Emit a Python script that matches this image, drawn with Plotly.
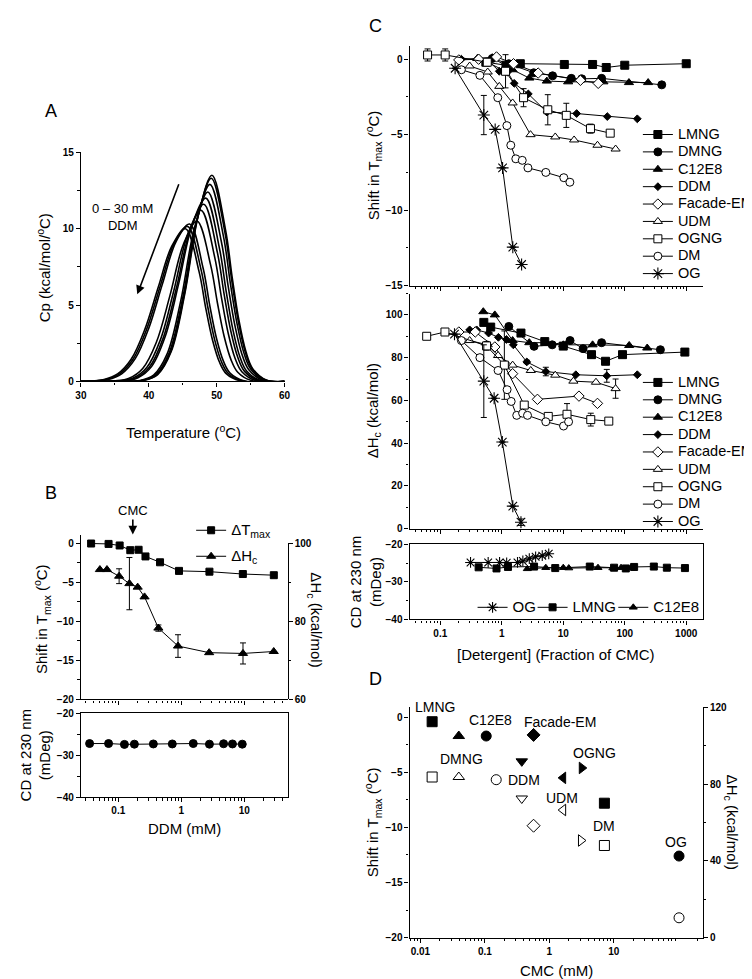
import math
import plotly.graph_objects as go

W, H = 752, 979
FONT = "Arial, Liberation Sans, sans-serif"

# ---------------- Panel A: DSC thermograms (0 - 30 mM DDM) ----------------
dsc_temp = [
    [30, 37.3, 39.3, 41.3, 43.3, 45.3, 47.3, 49.3, 51.3, 52.3, 53.3, 54.3, 55.3, 57.3, 60],
    [30, 37.2, 39.2, 41.2, 43.2, 45.2, 47.2, 49.2, 51.2, 52.2, 53.2, 54.2, 55.2, 57.2, 60],
    [30, 37.0, 39.0, 41.0, 43.0, 45.0, 47.0, 49.0, 51.0, 52.0, 53.0, 54.0, 55.0, 57.0, 60],
    [30, 36.7, 38.7, 40.7, 42.7, 44.7, 46.7, 48.7, 50.7, 51.7, 52.7, 53.7, 54.7, 56.7, 60],
    [30, 36.4, 38.4, 40.4, 42.4, 44.4, 46.4, 48.4, 50.4, 51.4, 52.4, 53.4, 54.4, 56.4, 60],
    [30, 36.1, 38.1, 40.1, 42.1, 44.1, 46.1, 48.1, 50.1, 51.1, 52.1, 53.1, 54.1, 56.1, 60],
    [30, 35.7, 37.7, 39.7, 41.7, 43.7, 45.7, 47.7, 49.7, 50.7, 51.7, 52.7, 53.7, 55.7, 60],
    [30, 35.1, 37.1, 39.1, 41.1, 43.1, 45.1, 47.1, 49.1, 50.1, 51.1, 52.1, 53.1, 55.1, 60],
    [30, 34.0, 36.0, 38.0, 40.0, 42.0, 44.0, 46.0, 48.0, 49.0, 50.0, 51.0, 52.0, 54.0, 60],
    [30, 33.7, 35.7, 37.7, 39.7, 41.7, 43.7, 45.7, 47.7, 48.7, 49.7, 50.7, 51.7, 53.7, 60],
    [30, 33.4, 35.4, 37.4, 39.4, 41.4, 43.4, 45.4, 47.4, 48.4, 49.4, 50.4, 51.4, 53.4, 60],
]
dsc_cp = [
    [0, 0.01, 0.07, 0.45, 1.96, 5.74, 10.89, 13.5, 9.92, 6.75, 3.94, 1.96, 0.84, 0.09, 0],
    [0, 0.01, 0.07, 0.44, 1.93, 5.65, 10.73, 13.3, 9.78, 6.65, 3.88, 1.93, 0.83, 0.09, 0],
    [0, 0.01, 0.06, 0.43, 1.87, 5.48, 10.41, 12.9, 9.48, 6.45, 3.77, 1.87, 0.81, 0.09, 0],
    [0, 0.01, 0.06, 0.41, 1.80, 5.27, 10.01, 12.4, 9.11, 6.20, 3.62, 1.80, 0.78, 0.09, 0],
    [0, 0.04, 0.24, 0.97, 2.92, 6.40, 10.26, 12.0, 8.72, 5.88, 3.36, 1.63, 0.68, 0.07, 0],
    [0, 0.04, 0.23, 0.94, 2.82, 6.18, 9.92, 11.6, 8.43, 5.68, 3.25, 1.58, 0.66, 0.07, 0],
    [0, 0.04, 0.22, 0.91, 2.72, 5.97, 9.58, 11.2, 8.14, 5.49, 3.14, 1.52, 0.64, 0.07, 0],
    [0, 0.04, 0.21, 0.85, 2.55, 5.60, 8.98, 10.5, 7.63, 5.15, 2.94, 1.43, 0.60, 0.06, 0],
    [0, 0.13, 0.50, 1.49, 3.49, 6.37, 9.14, 10.3, 7.41, 4.91, 2.76, 1.31, 0.53, 0.05, 0],
    [0, 0.13, 0.50, 1.47, 3.44, 6.27, 9.00, 10.15, 7.30, 4.84, 2.72, 1.29, 0.52, 0.05, 0],
    [0, 0.13, 0.49, 1.45, 3.39, 6.18, 8.87, 10.0, 7.19, 4.77, 2.68, 1.27, 0.51, 0.05, 0],
]

# ---------------- Panel B: DDM titration ----------------
b_tmax_conc = [0.037, 0.07, 0.105, 0.155, 0.21, 0.27, 0.46, 0.92, 2.8, 9.5, 29.5]
b_tmax = [-0.05, -0.1, -0.3, -0.9, -0.85, -1.7, -2.45, -3.55, -3.65, -3.95, -4.1]
b_dh_conc = [0.051, 0.066, 0.103, 0.15, 0.203, 0.261, 0.433, 0.887, 2.77, 9.55, 29.4]
b_dh = [93.3, 93.3, 91.6, 89.7, 88.8, 86.3, 78.3, 73.7, 72.0, 71.8, 72.3]
b_dh_err = [0, 0, 1.9, 6.7, 0, 0, 0.8, 2.9, 0, 2.7, 0]
b_cd_conc = [0.035, 0.07, 0.125, 0.18, 0.36, 0.72, 1.55, 2.8, 4.7, 6.5, 9.3]
b_cd = [-27.2, -27.2, -27.4, -27.35, -27.3, -27.3, -27.2, -27.35, -27.25, -27.3, -27.35]
ddm_cmc = 0.17

# ---------------- Panel C: shift in Tmax vs fraction of CMC ----------------
c_names = ["LMNG", "DMNG", "C12E8", "DDM", "Facade-EM", "UDM", "OGNG", "DM", "OG"]
c_symbols = ["square", "circle", "triangle-up", "diamond", "diamond",
             "triangle-up", "square", "circle", "asterisk-open"]
c_filled = [True, True, True, True, False, False, False, False, True]

tm_lmng_x = [0.55, 1.17, 2.0, 10.4, 30, 50, 100, 1000]
tm_lmng_y = [-0.2, -0.4, -0.3, -0.35, -0.35, -0.55, -0.4, -0.3]
tm_dmng_x = [0.7, 1.3, 3.3, 6.7, 13.5, 20, 42, 400]
tm_dmng_y = [0.05, -0.3, -0.9, -1.1, -1.27, -1.3, -1.27, -1.7]
tm_c12e8_x = [0.4, 0.7, 1.5, 2.8, 5.4, 12, 45, 117, 240]
tm_c12e8_y = [0.05, 0.1, -0.7, -1.25, -1.45, -1.5, -1.5, -1.55, -1.55]
tm_ddm_x = [0.22, 0.41, 0.62, 0.91, 1.24, 1.59, 2.7, 5.4, 16.5, 52, 160]
tm_ddm_y = [0.0, 0.05, -0.15, -0.8, -0.85, -1.6, -2.3, -3.5, -3.6, -3.8, -3.95]
tm_facade_x = [0.2, 0.42, 0.82, 1.55, 3.9, 19, 37]
tm_facade_y = [-0.05, 0.0, 0.15, -0.3, -0.92, -1.4, -1.6]
tm_udm_x = [0.3, 0.59, 0.91, 1.5, 2.93, 7.4, 15, 36, 71]
tm_udm_y = [-0.45, -0.85, -1.8, -2.9, -5.0, -5.15, -5.35, -5.7, -5.95]
tm_ogng_x = [0.062, 0.12, 0.58, 1.15, 2.26, 5.6, 11.2, 27.7, 58]
tm_ogng_y = [0.28, 0.28, -0.2, -0.8, -2.55, -3.35, -3.72, -4.6, -4.9]
tm_ogng_err = [0.4, 0.4, 0.2, 1.1, 0.6, 1.0, 0.8, 0.3, 0]
tm_dm_x = [0.22, 0.44, 0.86, 1.21, 1.4, 1.69, 2.15, 2.66, 5.2, 10.2, 12.8]
tm_dm_y = [-0.7, -1.07, -2.55, -4.4, -5.7, -6.6, -6.7, -7.2, -7.5, -7.85, -8.15]
tm_og_x = [0.174, 0.51, 0.78, 1.03, 1.51, 2.1]
tm_og_y = [-0.6, -3.7, -4.65, -7.2, -12.45, -13.6]
tm_og_err = [0, 1.3, 0, 0, 0, 0]

dh_lmng_x = [0.51, 0.66, 2.05, 5.0, 10, 28.8, 48.7, 92, 950]
dh_lmng_y = [96.5, 94.3, 91.5, 87.5, 85.4, 81.4, 78.3, 81.4, 82.6]
dh_dmng_x = [1.3, 3.35, 6.6, 12.9, 21, 42, 380]
dh_dmng_y = [94.6, 85.3, 86, 88, 84.2, 87, 83.7]
dh_c12e8_x = [0.5, 0.77, 1.5, 2.8, 5.3, 10, 30, 118, 232]
dh_c12e8_y = [101.5, 100, 88, 87, 87, 86, 86, 85.7, 84.5]
dh_ddm_x = [0.3, 0.39, 0.61, 0.88, 1.19, 1.54, 2.55, 5.2, 16, 51, 160]
dh_ddm_y = [93, 93, 91.5, 89.5, 88.5, 86, 78, 73.5, 72, 71.5, 72]
dh_ddm_err = [0, 0, 0, 0, 0, 0, 0.8, 2, 0, 3, 0]
dh_facade_x = [0.2, 0.37, 0.77, 1.5, 3.8, 18, 36]
dh_facade_y = [92, 92, 85, 72.5, 60.5, 62, 58.6]
dh_udm_x = [0.3, 0.59, 0.87, 1.5, 2.96, 7.4, 14.6, 34, 71]
dh_udm_y = [88, 86, 81, 76.5, 74, 71.8, 69, 68.5, 65.5]
dh_udm_err = [0, 0, 0, 0, 0, 0, 0, 0, 4.5]
dh_ogng_x = [0.06, 0.119, 0.565, 1.1, 2.32, 5.7, 11.5, 28, 55]
dh_ogng_y = [90, 92, 85.5, 76.5, 57.8, 52.5, 53.5, 51, 50.3]
dh_ogng_err = [1.5, 1, 2, 16, 1, 0.5, 5, 3, 0]
dh_dm_x = [0.22, 0.44, 0.87, 1.22, 1.42, 1.75, 2.18, 2.62, 5.2, 10.1, 12.2]
dh_dm_y = [88, 80, 74, 65, 59.5, 53, 54, 53, 50, 48, 50]
dh_og_x = [0.17, 0.51, 0.75, 1.02, 1.51, 2.05]
dh_og_y = [91, 69, 61, 40.5, 10.5, 3]
dh_og_err = [0, 17, 0, 0, 0, 1.5]

cd_og_x = [0.31, 0.6, 0.92, 1.2, 1.8, 2.2, 2.8, 3.55, 4.55, 5.8]
cd_og_y = [-24.8, -24.8, -24.8, -24.9, -24.8, -24.4, -23.8, -23.3, -23.0, -22.5]
cd_lmng_x = [0.42, 0.82, 1.26, 3.35, 7.4, 27, 67, 104, 142, 297, 484, 953]
cd_lmng_y = [-26.1, -26.4, -26.0, -25.9, -26.3, -25.9, -26.2, -26.4, -26.0, -25.9, -26.2, -26.3]
cd_c12e8_x = [2.6, 5.2, 10, 12.3, 36.7, 64, 87, 126]
cd_c12e8_y = [-26.5, -26.2, -26.2, -26.3, -26.2, -26.3, -26.2, -26.3]

# ---------------- Panel D: effects vs CMC ----------------
d_names = ["LMNG", "DMNG", "C12E8", "Facade-EM", "DDM", "UDM", "OGNG", "DM", "OG"]
d_cmc_tmax = [0.0152, 0.0394, 0.105, 0.57, 0.374, 1.64, 3.19, 7.16, 103]
d_cmc_dh = [0.0152, 0.0394, 0.15, 0.57, 0.374, 1.64, 3.1, 7.16, 103]
d_tmax = [-0.4, -1.7, -1.7, -1.6, -4.0, -5.5, -4.6, -7.8, -12.6]
d_dh = [83.7, 83.7, 82.3, 58.3, 72.5, 66.5, 50.6, 48, 10.3]
d_symbols = ["square", "triangle-up", "circle", "diamond", "triangle-down",
             "triangle-left", "triangle-right", "square", "circle"]
# text label anchors (CMC mM, shift value)
d_label_text = ["LMNG", "DMNG", "C12E8", "Facade-EM", "OGNG", "DDM", "UDM", "DM", "OG"]
d_label_x = [0.0169, 0.0437, 0.121, 1.47, 5.04, 0.401, 1.58, 7.16, 93]
d_label_y = [0.9, -3.8, -0.2, -0.4, -3.2, -5.67, -7.37, -9.85, -11.3]


def fx(px):
    return px / W


def fy(py):
    return 1 - py / H


def log_minor(lo, hi):
    return [m * 10 ** e for e in range(lo, hi + 1) for m in range(2, 10)]


def mk(symbol, filled, size=7):
    if symbol == "asterisk-open":
        return dict(symbol=symbol, size=size + 2, color="black", line=dict(color="black", width=1.1))
    return dict(symbol=symbol, size=size, color="black" if filled else "white",
                line=dict(color="black", width=1))


def err(vals):
    return dict(type="data", array=vals, color="black", thickness=1, width=3)


def big(name, size=15):
    return '<span style="font-size:%spx">%s</span>' % (size, name)


fig = go.Figure()

# Panel A
for t, cp in zip(dsc_temp, dsc_cp):
    fig.add_trace(go.Scatter(x=t, y=cp, mode="lines", line=dict(color="black", width=1.6, shape="spline"),
                             xaxis="x", yaxis="y", showlegend=False, hoverinfo="skip"))

# Panel B
fig.add_trace(go.Scatter(x=b_tmax_conc, y=b_tmax, mode="lines+markers", name=big("ΔT<sub>max</sub>"),
                         line=dict(color="black", width=1), marker=mk("square", True, 7),
                         xaxis="x2", yaxis="y2", legend="legend4", legendgroup="bt"))
fig.add_trace(go.Scatter(x=b_dh_conc, y=b_dh, mode="lines+markers", name=big("ΔH<sub>c</sub>"),
                         line=dict(color="black", width=1), marker=mk("triangle-up", True, 8),
                         error_y=err(b_dh_err), xaxis="x2", yaxis="y3", legend="legend4", legendgroup="bh"))
fig.add_trace(go.Scatter(x=b_cd_conc, y=b_cd, mode="lines+markers", line=dict(color="black", width=1),
                         marker=mk("circle", True, 8), xaxis="x3", yaxis="y4", showlegend=False))

# Panel C
tm_sets = [(tm_lmng_x, tm_lmng_y, None), (tm_dmng_x, tm_dmng_y, None), (tm_c12e8_x, tm_c12e8_y, None),
           (tm_ddm_x, tm_ddm_y, None), (tm_facade_x, tm_facade_y, None), (tm_udm_x, tm_udm_y, None),
           (tm_ogng_x, tm_ogng_y, tm_ogng_err), (tm_dm_x, tm_dm_y, None), (tm_og_x, tm_og_y, tm_og_err)]
dh_sets = [(dh_lmng_x, dh_lmng_y, None), (dh_dmng_x, dh_dmng_y, None), (dh_c12e8_x, dh_c12e8_y, None),
           (dh_ddm_x, dh_ddm_y, dh_ddm_err), (dh_facade_x, dh_facade_y, None), (dh_udm_x, dh_udm_y, dh_udm_err),
           (dh_ogng_x, dh_ogng_y, dh_ogng_err), (dh_dm_x, dh_dm_y, None), (dh_og_x, dh_og_y, dh_og_err)]

for i, name in enumerate(c_names):
    sym, filled = c_symbols[i], c_filled[i]
    size = 6 if sym == "diamond" and filled else 8
    x, y, e = tm_sets[i]
    fig.add_trace(go.Scatter(x=x, y=y, mode="lines+markers", name=big(name, 14.5),
                             line=dict(color="black", width=1), marker=mk(sym, filled, size),
                             error_y=err(e) if e else None, xaxis="x4", yaxis="y5", legend="legend%d" % (10 + i)))
    x, y, e = dh_sets[i]
    fig.add_trace(go.Scatter(x=x, y=y, mode="lines+markers", name=big(name, 14.5),
                             line=dict(color="black", width=1), marker=mk(sym, filled, size),
                             error_y=err(e) if e else None, xaxis="x5", yaxis="y6", legend="legend%d" % (20 + i)))

for name, x, y, sym, leg in [("OG", cd_og_x, cd_og_y, "asterisk-open", "legend3"),
                             ("LMNG", cd_lmng_x, cd_lmng_y, "square", "legend5"),
                             ("C12E8", cd_c12e8_x, cd_c12e8_y, "triangle-up", "legend6")]:
    fig.add_trace(go.Scatter(x=x, y=y, mode="lines+markers", name=big(name), line=dict(color="black", width=1),
                             marker=mk(sym, True, 7), xaxis="x6", yaxis="y7", legend=leg))

# Panel D
for i, name in enumerate(d_names):
    fig.add_trace(go.Scatter(x=[d_cmc_tmax[i]], y=[d_tmax[i]], mode="markers", marker=mk(d_symbols[i], True, 10),
                             xaxis="x7", yaxis="y8", showlegend=False, name=name))
    fig.add_trace(go.Scatter(x=[d_cmc_dh[i]], y=[d_dh[i]], mode="markers", marker=mk(d_symbols[i], False, 10),
                             xaxis="x7", yaxis="y9", showlegend=False, name=name))

TICKFONT = dict(family=FONT, size=10, color="black", weight="bold")


def axis(domain, rng, anchor, **kw):
    d = dict(domain=domain, range=rng, anchor=anchor, showline=True, linecolor="black", linewidth=1.2,
             ticks="outside", ticklen=4, tickwidth=1.2, tickcolor="black", showgrid=False, zeroline=False,
             tickfont=TICKFONT)
    d.update(kw)
    return d


def minor_lin(dtick):
    return dict(dtick=dtick, ticks="outside", ticklen=2.5, tickwidth=1, tickcolor="black", showgrid=False)


def minor_vals(vals):
    return dict(tickvals=vals, ticks="outside", ticklen=2.5, tickwidth=1, tickcolor="black", showgrid=False)


xa_b = [fx(68), fx(278)]
xa_c = [fx(402), fx(700)]

layout_axes = dict(
    xaxis=axis([fx(68), fx(275)], [30, 60], "y", tickvals=[30, 40, 50, 60], minor=minor_lin(5)),
    yaxis=axis([fy(372), fy(140)], [0, 15], "x", tickvals=[0, 5, 10, 15], minor=minor_lin(2.5)),
    xaxis2=axis(xa_b, [-1.594, 1.688], "y2", type="log", tickvals=[0.1, 1, 10], showticklabels=False,
                minor=minor_vals(log_minor(-2, 1))),
    yaxis2=axis([fy(694), fy(527)], [-20, 1.1], "x2", tickvals=[0, -5, -10, -15, -20], minor=minor_lin(2.5)),
    # right-hand dH axis only spans 60-100, as in the original
    yaxis3=axis([fy(694), fy(536)], [60, 100], "x2", side="right", tickvals=[60, 80, 100],
                minor=minor_vals([70, 90])),
    xaxis3=axis(xa_b, [-1.594, 1.688], "y4", type="log", tickvals=[0.1, 1, 10], ticktext=["0.1", "1", "10"],
                mirror=True, minor=minor_vals(log_minor(-2, 1))),
    yaxis4=axis([fy(793), fy(708)], [-40, -20], "x3", tickvals=[-40, -30, -20], mirror=True, minor=minor_lin(5)),
    xaxis4=axis(xa_c, [-1.5, 3.27], "y5", type="log", tickvals=[0.1, 1, 10, 100, 1000], showticklabels=False,
                minor=minor_vals(log_minor(-2, 3))),
    yaxis5=axis([fy(275), fy(32)], [-15, 0.9], "x4", tickvals=[0, -5, -10, -15], minor=minor_lin(2.5)),
    xaxis5=axis(xa_c, [-1.5, 3.27], "y6", type="log", tickvals=[0.1, 1, 10, 100, 1000], showticklabels=False,
                minor=minor_vals(log_minor(-2, 3))),
    yaxis6=axis([fy(521), fy(283)], [0, 110], "x5", tickvals=[0, 20, 40, 60, 80, 100], minor=minor_lin(10)),
    xaxis6=axis(xa_c, [-1.5, 3.27], "y7", type="log", tickvals=[0.1, 1, 10, 100, 1000],
                ticktext=["0.1", "1", "10", "100", "1000"], mirror=True, minor=minor_vals(log_minor(-2, 3))),
    yaxis7=axis([fy(613), fy(537)], [-40, -20], "x6", tickvals=[-40, -30, -20], mirror=True, minor=minor_lin(5)),
    xaxis7=axis(xa_c, [-2.168, 2.382], "y8", type="log", tickvals=[0.01, 0.1, 1, 10],
                ticktext=["0.01", "0.1", "1", "10"], minor=minor_vals(log_minor(-3, 2))),
    yaxis8=axis([fy(935), fy(702)], [-20, 0.9], "x7", tickvals=[0, -5, -10, -15, -20], minor=minor_lin(2.5)),
    yaxis9=axis([fy(935), fy(702)], [0, 120], "x7", overlaying="y8", side="right", tickvals=[0, 40, 80, 120],
                minor=minor_vals([20, 60, 100])),
)


def label(text, px, py, size=15, angle=0, **kw):
    d = dict(text=text, x=fx(px), y=fy(py), xref="paper", yref="paper", showarrow=False, textangle=angle,
             font=dict(family=FONT, size=size, color="black"), xanchor="center", yanchor="middle")
    d.update(kw)
    return d


annotations = [
    label("A", 38, 98, 18), label("B", 38, 485, 18), label("C", 367, 12, 18), label("D", 367, 673, 18),
    label("Cp (kcal/mol/<sup>o</sup>C)", 30, 257, 15, -90),
    label("Temperature (<sup>o</sup>C)", 172, 423, 15),
    label("0 – 30 mM<br>DDM", 110, 206, 13),
    dict(x=38.3, y=5.7, ax=44.5, ay=13.0, xref="x", yref="y", axref="x", ayref="y", text="",
         showarrow=True, arrowhead=2, arrowsize=1.1, arrowwidth=1.6, arrowcolor="black"),
    label("Shift in T<sub>max</sub> (<sup>o</sup>C)", 28, 613, 15, -90),
    label("ΔH<sub>c</sub> (kcal/mol)", 306, 613, 15, 90),
    label("CD at 230 nm<br>(mDeg)", 22, 750, 15, -90),
    label("DDM (mM)", 173, 825, 15),
    dict(x=math.log10(ddm_cmc), y=fy(527), xref="x2", yref="paper", text="CMC", showarrow=True,
         ax=0, ay=-24, arrowhead=2, arrowsize=1.1, arrowwidth=1.6, arrowcolor="black",
         font=dict(family=FONT, size=13, color="black")),
    label("Shift in T<sub>max</sub> (<sup>o</sup>C)", 365, 153, 15, -90),
    label("ΔH<sub>c</sub> (kcal/mol)", 365, 402, 15, -90),
    label("CD at 230 nm<br>(mDeg)", 358, 575, 15, -90),
    label("[Detergent] (Fraction of CMC)", 551, 648, 15),
    label("Shift in T<sub>max</sub> (<sup>o</sup>C)", 365, 818, 15, -90),
    label("ΔH<sub>c</sub> (kcal/mol)", 729, 818, 15, 90),
    label("CMC (mM)", 551, 968, 15),
]
for lx, ly, lt in zip(d_label_x, d_label_y, d_label_text):
    annotations.append(dict(x=math.log10(lx), y=ly, xref="x7", yref="y8", text=lt, showarrow=False,
                            font=dict(family=FONT, size=14, color="black"), xanchor="center", yanchor="middle"))

shapes = [dict(type="line", xref="x2", yref="paper", x0=math.log10(ddm_cmc), x1=math.log10(ddm_cmc),
               y0=fy(527), y1=fy(793), line=dict(color="black", width=1.3))]


def legend_at(px, py, anchor="top", **kw):
    d = dict(x=fx(px), y=fy(py), xanchor="left", yanchor=anchor, font=dict(family=FONT, size=11, color="black"),
             bgcolor="rgba(0,0,0,0)", tracegroupgap=0, itemwidth=30)
    d.update(kw)
    return d


legends = {
    "legend3": legend_at(466, 586),
    "legend5": legend_at(527, 586),
    "legend6": legend_at(609, 586),
    "legend4": legend_at(180, 508, tracegroupgap=7),
}
for i in range(len(c_names)):
    legends["legend%d" % (10 + i)] = legend_at(634, 122 + 17.6 * i, "middle")
    legends["legend%d" % (20 + i)] = legend_at(634, 373 + 17.6 * i, "middle")

fig.update_layout(
    width=W, height=H, margin=dict(l=0, r=0, t=0, b=0),
    # transparent plot areas so the separate dH subplot in B does not hide the Tmax trace
    paper_bgcolor="white", plot_bgcolor="rgba(0,0,0,0)",
    font=dict(family=FONT, color="black"),
    annotations=annotations, shapes=shapes,
    **legends,
    **layout_axes,
)

fig.write_html("out.html")
